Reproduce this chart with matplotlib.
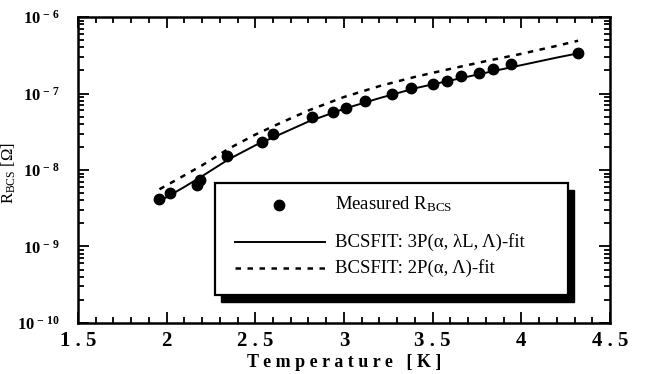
import numpy as np
import matplotlib
matplotlib.use("Agg")
import matplotlib.pyplot as plt
from matplotlib.patches import Rectangle
from matplotlib.lines import Line2D
from matplotlib.ticker import FixedLocator, LogLocator, NullFormatter, MultipleLocator

# ------------------------------
# data
# ------------------------------
T_meas = [1.96, 2.02, 2.17, 2.19, 2.34, 2.54, 2.60, 2.82, 2.94, 3.01, 3.12,
          3.27, 3.38, 3.50, 3.58, 3.66, 3.76, 3.84, 3.94, 4.32]
R_meas = [4.2e-9, 5.0e-9, 6.3e-9, 7.4e-9, 1.52e-8, 2.32e-8, 2.96e-8, 4.9e-8,
          5.7e-8, 6.5e-8, 8.0e-8, 9.8e-8, 1.18e-7, 1.33e-7, 1.46e-7, 1.69e-7,
          1.85e-7, 2.09e-7, 2.43e-7, 3.38e-7]

T_fit3 = [1.96, 2.1, 2.2, 2.35, 2.5, 2.65, 2.8, 3.0, 3.2, 3.4, 3.6, 3.8, 4.0, 4.2, 4.32]
R_fit3 = [3.9e-9, 6.0e-9, 8.3e-9, 1.38e-8, 2.1e-8, 3.0e-8, 4.3e-8, 6.3e-8,
          8.7e-8, 1.17e-7, 1.48e-7, 1.87e-7, 2.35e-7, 2.95e-7, 3.35e-7]

T_fit2 = [1.96, 2.1, 2.2, 2.35, 2.5, 2.65, 2.8, 3.0, 3.2, 3.4, 3.6, 3.8, 4.0, 4.2, 4.32]
R_fit2 = [5.6e-9, 8.5e-9, 1.15e-8, 1.9e-8, 2.9e-8, 4.2e-8, 6.0e-8, 9.0e-8,
          1.25e-7, 1.65e-7, 2.1e-7, 2.65e-7, 3.3e-7, 4.2e-7, 4.9e-7]

x_ticks = [1.5, 2, 2.5, 3, 3.5, 4, 4.5]
x_labels = ["1 . 5", "2", "2 . 5", "3", "3 . 5", "4", "4 . 5"]
y_ticks = [1e-10, 1e-9, 1e-8, 1e-7, 1e-6]
y_labels = [r"$\mathbf{10^{\,-\,10}}$", r"$\mathbf{10^{\,-\,9}}$", r"$\mathbf{10^{\,-\,8}}$",
            r"$\mathbf{10^{\,-\,7}}$", r"$\mathbf{10^{\,-\,6}}$"]

legend_labels = [r"Measured R$_{\mathregular{BCS}}$",
                 "BCSFIT: 3P(\u03b1, \u03bbL, \u039b)-fit",
                 "BCSFIT: 2P(\u03b1, \u039b)-fit"]

# ------------------------------
# style
# ------------------------------
plt.rcParams["font.family"] = ["Liberation Serif", "DejaVu Serif"]
plt.rcParams["mathtext.fontset"] = "custom"
plt.rcParams["mathtext.rm"] = "Liberation Serif"
plt.rcParams["mathtext.bf"] = "Liberation Serif:bold"
plt.rcParams["mathtext.it"] = "Liberation Serif:italic"

fig = plt.figure(figsize=(6.49, 3.74), dpi=100)
ax = fig.add_axes([0.120, 0.1364, 0.820, 0.8181])

ax.plot(T_fit3, R_fit3, color="black", lw=1.4)
ax.plot(T_fit2, R_fit2, color="black", lw=1.8, ls=(0, (2.2, 2.6)))
ax.plot(T_meas, R_meas, "o", color="black", ms=7.5)

ax.set_yscale("log")
ax.set_xlim(1.5, 4.5)
ax.set_ylim(1e-10, 1e-6)

ax.xaxis.set_major_locator(FixedLocator(x_ticks))
ax.set_xticklabels(x_labels, fontsize=15, fontweight="bold")
ax.xaxis.set_minor_locator(MultipleLocator(0.1))
ax.yaxis.set_major_locator(FixedLocator(y_ticks))
ax.set_yticklabels(y_labels, fontsize=12)
ax.yaxis.set_minor_locator(LogLocator(base=10, subs=np.arange(2, 10)))
ax.yaxis.set_minor_formatter(NullFormatter())

ax.tick_params(which="both", direction="in", top=True, right=True, width=1.3)
ax.tick_params(which="major", length=8)
ax.tick_params(which="minor", length=4)
ax.tick_params(axis="x", pad=6)
ax.tick_params(axis="y", pad=13)
for s in ax.spines.values():
    s.set_linewidth(1.8)

ax.set_xlabel("T e m p e r a t u r e   [ K ]", fontsize=13, fontweight="bold", labelpad=2)
ax.set_ylabel(r"R$_{\mathregular{BCS}}$ [$\Omega$]", fontsize=12)
ax.yaxis.set_label_coords(-0.112, 0.49)

# ------------------------------
# legend box with heavy shadow
# ------------------------------
bx0, by0, bw, bh = 0.2575, 0.0915, 0.6635, 0.366
sx = 6 / 532
sy = 7 / 306
ax.add_patch(Rectangle((bx0 + sx, by0 - sy), bw, bh, transform=ax.transAxes,
                       facecolor="black", edgecolor="black", zorder=5))
ax.add_patch(Rectangle((bx0, by0), bw, bh, transform=ax.transAxes,
                       facecolor="white", edgecolor="black", lw=1.6, zorder=6))

ax.add_line(Line2D([0.378], [0.386], marker="o", color="black", ms=7.5,
                   transform=ax.transAxes, zorder=7))
ax.add_line(Line2D([0.295, 0.464], [0.265, 0.265], color="black", lw=1.4,
                   transform=ax.transAxes, zorder=7))
ax.add_line(Line2D([0.295, 0.464], [0.18, 0.18], color="black", lw=1.8,
                   ls=(0, (2.2, 2.6)), transform=ax.transAxes, zorder=7))
for yy, lab in zip([0.39, 0.265, 0.18], legend_labels):
    ax.text(0.483, yy, lab, transform=ax.transAxes, fontsize=13.5,
            va="center", ha="left", zorder=7)

fig.savefig("out.png", dpi=100)
